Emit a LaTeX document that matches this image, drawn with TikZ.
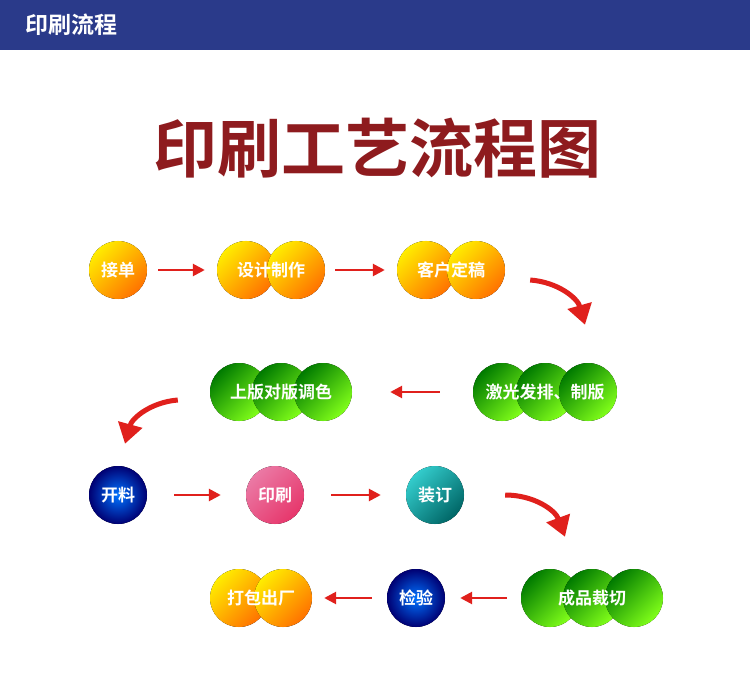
\documentclass[tikz,border=0pt]{standalone}
\usepackage{fontspec}
\newfontfamily\cjk{Noto Sans CJK SC}[BoldFont={* Bold}]
\usetikzlibrary{arrows.meta}
\definecolor{navy}{HTML}{2A3A8A}
\definecolor{title}{HTML}{8E1B1E}
\definecolor{arr}{HTML}{E0201C}
\definecolor{pk}{HTML}{E2407E}
\tikzset{
 yel/.style={top color=yellow!85!orange, bottom color=orange!90!red, shading angle=45},
 grn/.style={top color=green!35!black!80!green, bottom color=green!55!yellow!90!white, shading angle=45},
 blu/.style={inner color=blue!55!cyan, outer color=blue!45!black},
 pnk/.style={top color=pk!70!white, bottom color=pk!85!red, shading angle=45},
 tea/.style={top color=teal!50!cyan!80!white, bottom color=teal!80!black, shading angle=45},
 lbl/.style={font=\cjk\bfseries\fontsize{17}{17}\selectfont, text=white},
 box/.style={minimum height=58pt, inner sep=0pt},
 st/.style={-{Triangle[length=12pt,width=12pt]}, arr, line width=2.6pt},
 cv/.style={-{Triangle[length=20pt,width=24pt]}, arr, line width=5pt},
}
\newcommand{\pill}[7]{%
 \foreach \cx in {#4} {\fill[#5] (\cx,#3) circle (29pt);}
 \node[box, minimum width=#6] (#1) at (#2,#3) {};
 \node[lbl] at (#2,#3) {#7};
}
\begin{document}
\begin{tikzpicture}[x=1pt,y=-1pt]
\useasboundingbox (0,0) rectangle (750,695);
\fill[white] (0,0) rectangle (750,695);
\fill[navy] (0,0) rectangle (750,50);
\node[font=\cjk\bfseries\fontsize{23}{23}\selectfont, text=white, anchor=west] (hd) at (22,25) {印刷流程};
\node[font=\cjk\bfseries\fontsize{64}{64}\selectfont, text=title] (tt) at (377,148) {印刷工艺流程图};
\pill{a}{118}{270}{118}{yel}{60pt}{接单}
\pill{b}{271}{270}{246,296}{yel}{108pt}{设计制作}
\pill{c}{451}{270}{426,476}{yel}{108pt}{客户定稿}
\pill{d}{545}{392}{502,545,588}{grn}{144pt}{激光发排、制版}
\pill{e}{281}{392}{239,281,323}{grn}{142pt}{上版对版调色}
\pill{f}{118}{495}{118}{blu}{60pt}{开料}
\pill{g}{275}{495}{275}{pnk}{60pt}{印刷}
\pill{h}{435}{495}{435}{tea}{60pt}{装订}
\pill{i}{592}{598}{550,592,634}{grn}{142pt}{成品裁切}
\pill{j}{416}{598}{416}{blu}{60pt}{检验}
\pill{k}{261}{598}{239,283}{yel}{102pt}{打包出厂}
\draw[st] ([xshift=10]a.east) -- ([xshift=-12]b.west);
\draw[st] ([xshift=10]b.east) -- ([xshift=-12]c.west);
\draw[cv] ([xshift=25,yshift=-10]c.east) to[bend left=35] ([xshift=40,yshift=38]d.north);
\draw[st] ([xshift=-33]d.west) -- ([xshift=38]e.east);
\draw[cv] ([xshift=-32,yshift=-8]e.west) to[bend right=35] ([xshift=7,yshift=22]f.north);
\draw[st] ([xshift=26]f.east) -- ([xshift=-24]g.west);
\draw[st] ([xshift=26]g.east) -- ([xshift=-24]h.west);
\draw[cv] ([xshift=40]h.east) to[bend left=35] ([xshift=-27,yshift=32]i.north);
\draw[st] ([xshift=-14]i.west) -- ([xshift=14]j.east);
\draw[st] ([xshift=-14]j.west) -- ([xshift=12]k.east);
\end{tikzpicture}
\end{document}
